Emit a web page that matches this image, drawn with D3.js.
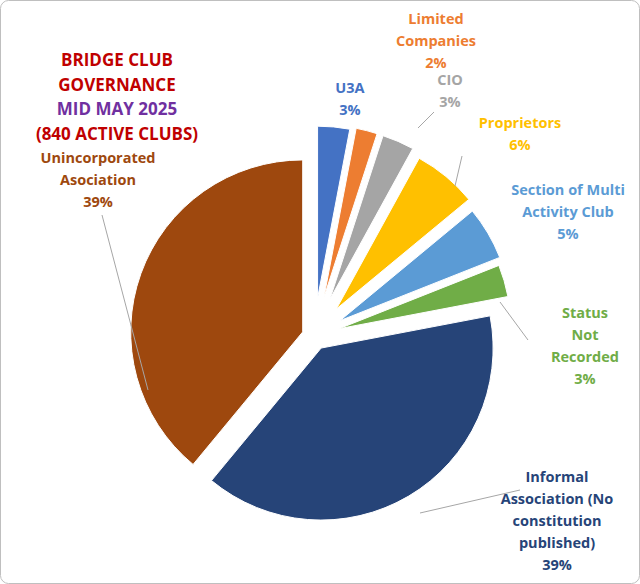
<!DOCTYPE html>
<html><head><meta charset="utf-8">
<script src="https://cdn.jsdelivr.net/npm/d3@7"></script>
<style>body{margin:0;background:#fff}svg{font-family:"Open Sans",sans-serif;font-weight:bold}</style>
</head><body><svg id="c" width="640" height="584"></svg>
<script>
const categories=["U3A","Limited Companies","CIO","Proprietors","Section of Multi Activity Club","Status Not Recorded","Informal Association (No constitution published)","Unincorporated Asociation"];
const values=[3,2,3,6,5,3,39,39];
const colors=["#4472C4","#ED7D31","#A5A5A5","#FFC000","#5B9BD5","#70AD47","#264478","#9E480E"];
const labelLines=[["U3A"],["Limited","Companies"],["CIO"],["Proprietors"],["Section of Multi","Activity Club"],["Status","Not","Recorded"],["Informal","Association (No","constitution","published)"],["Unincorporated","Asociation"]];
// layout (label positions, explode distances, leader lines)
const labelPos=[[350,93],[436,24],[450,85],[520,128],[568,195],[585,318],[557,482],[98,163]];
const explode=[38,40,40,35,30,26,14,12];
const leaders=[null,null,[[434,112],[418,128]],[[462,156],[455,186]],null,[[528,340],[500,302]],[[520,490],[420,513]],[[102,215],[148,390]]];
const svg=d3.select("#c");
svg.append("rect").attr("x",0.5).attr("y",0.5).attr("width",639).attr("height",583).attr("rx",8).attr("fill","#fff").attr("stroke","#bfbfbf");
const cx=314,cy=336,r=172;
const pie=d3.pie().sort(null).value(d=>d)(values);
const arc=d3.arc().innerRadius(0).outerRadius(r);
const g=svg.append("g").attr("transform",`translate(${cx},${cy})`);
g.selectAll("path").data(pie).join("path")
 .attr("d",arc).attr("fill",(d,i)=>colors[i]).attr("stroke","#fff").attr("stroke-width",1)
 .attr("transform",(d,i)=>{const a=(d.startAngle+d.endAngle)/2;return `translate(${Math.sin(a)*explode[i]},${-Math.cos(a)*explode[i]})`;});
leaders.forEach(l=>{if(l)svg.append("line").attr("x1",l[0][0]).attr("y1",l[0][1]).attr("x2",l[1][0]).attr("y2",l[1][1]).attr("stroke","#a6a6a6").attr("stroke-width",1);});
const tot=d3.sum(values);
labelLines.forEach((lines,i)=>{
 const t=svg.append("text").attr("text-anchor","middle").attr("font-size",14.5).attr("fill",colors[i]);
 lines.concat([Math.round(values[i]/tot*100)+"%"]).forEach((s,j)=>t.append("tspan").attr("x",labelPos[i][0]).attr("y",labelPos[i][1]+j*22).text(s));
});
const title=[["BRIDGE  CLUB","#C00000"],["GOVERNANCE","#C00000"],["MID MAY 2025","#7030A0"],["(840 ACTIVE CLUBS)","#C00000"]];
title.forEach((t,j)=>svg.append("text").attr("x",117).attr("y",66+j*24.5).attr("text-anchor","middle").attr("font-size",17).attr("fill",t[1]).text(t[0]));
</script></body></html>
